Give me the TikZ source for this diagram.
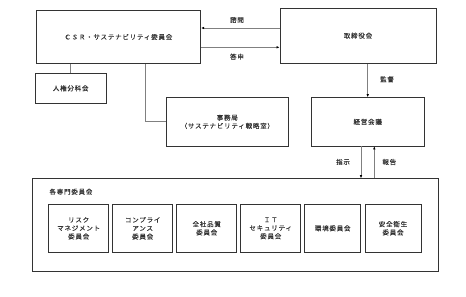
\documentclass[tikz,border=0pt]{standalone}
\usepackage{fontspec}
\newfontfamily\jp[LetterSpace=12,FakeBold=0.2]{Noto Sans CJK JP}
\usetikzlibrary{arrows.meta}
\definecolor{boxc}{HTML}{333333}
\definecolor{linec}{HTML}{808080}
\definecolor{txtc}{HTML}{333333}
\tikzset{
  every node/.style={font=\jp\fontsize{6.5}{8.3}\selectfont, text=txtc},
  box/.style={draw=boxc, line width=0.9pt, rectangle, inner sep=0pt, align=center},
  conn/.style={draw=linec, line width=0.8pt},
  arr/.style={conn, -{Latex[length=3pt,width=2.6pt,color=black]}},
}
\begin{document}
\begin{tikzpicture}[x=1pt,y=-1pt]
\useasboundingbox (0,0) rectangle (466,297);
\node[box, minimum width=164.7pt, minimum height=52.6pt] (csr) at (118.3,37) {ＣＳＲ・サステナビリティ委員会};
\node[box, minimum width=156pt, minimum height=55.3pt] (tori) at (358,35.7) {取締役会};
\node[box, minimum width=70.7pt, minimum height=30pt] (jinken) at (70.7,88.3) {人権分科会};
\node[box, minimum width=122.7pt, minimum height=48.3pt] (jimu) at (227.3,121.8) {事務局\\（サステナビリティ戦略室）};
\node[box, minimum width=112.7pt, minimum height=48.3pt] (keiei) at (367.7,121.8) {経営会議};
\node[box, minimum width=406.4pt, minimum height=92.3pt] (outer) at (235.5,224.8) {};
\node[anchor=west, inner sep=0pt] (kaku) at (49.3,191.7) {各専門委員会};
\node[box, minimum width=60pt, minimum height=48pt] (b1) at (78.7,228.3) {リスク\\マネジメント\\委員会};
\node[box, minimum width=60pt, minimum height=48pt] (b2) at (142.7,228.3) {コンプライ\\アンス\\委員会};
\node[box, minimum width=60pt, minimum height=48pt] (b3) at (206.7,228.3) {全社品質\\委員会};
\node[box, minimum width=60pt, minimum height=48pt] (b4) at (270.7,228.3) {ＩＴ\\セキュリティ\\委員会};
\node[box, minimum width=56pt, minimum height=48pt] (b5) at (332.7,228.3) {環境委員会};
\node[box, minimum width=56pt, minimum height=48pt] (b6) at (393,228.3) {安全衛生\\委員会};
% helper coordinates
\coordinate (yq) at (0,28);
\coordinate (ya) at (0,47.3);
\coordinate (xj) at (145.7,0);
\coordinate (xs) at (361,0);
\coordinate (xh) at (374.3,0);
% connectors
\draw[arr] (tori.west |- yq) -- (csr.east |- yq);
\draw[arr] (csr.east |- ya) -- (tori.west |- ya);
\draw[conn] (jinken.north) -- (jinken.north |- csr.south);
\draw[conn] (jimu.west) -| (csr.south -| xj);
\draw[arr] (tori.south -| keiei.north) -- (keiei.north);
\draw[arr] (keiei.south -| xs) -- (outer.north -| xs);
\draw[arr] (outer.north -| xh) -- (keiei.south -| xh);
% labels
\node (lq) at (237,20) {諮問};
\node (la) at (237,56.7) {答申};
\node (lk) at (387,79.3) {監督};
\node (ls) at (343,162) {指示};
\node (lh) at (389.3,162) {報告};
\end{tikzpicture}
\end{document}
